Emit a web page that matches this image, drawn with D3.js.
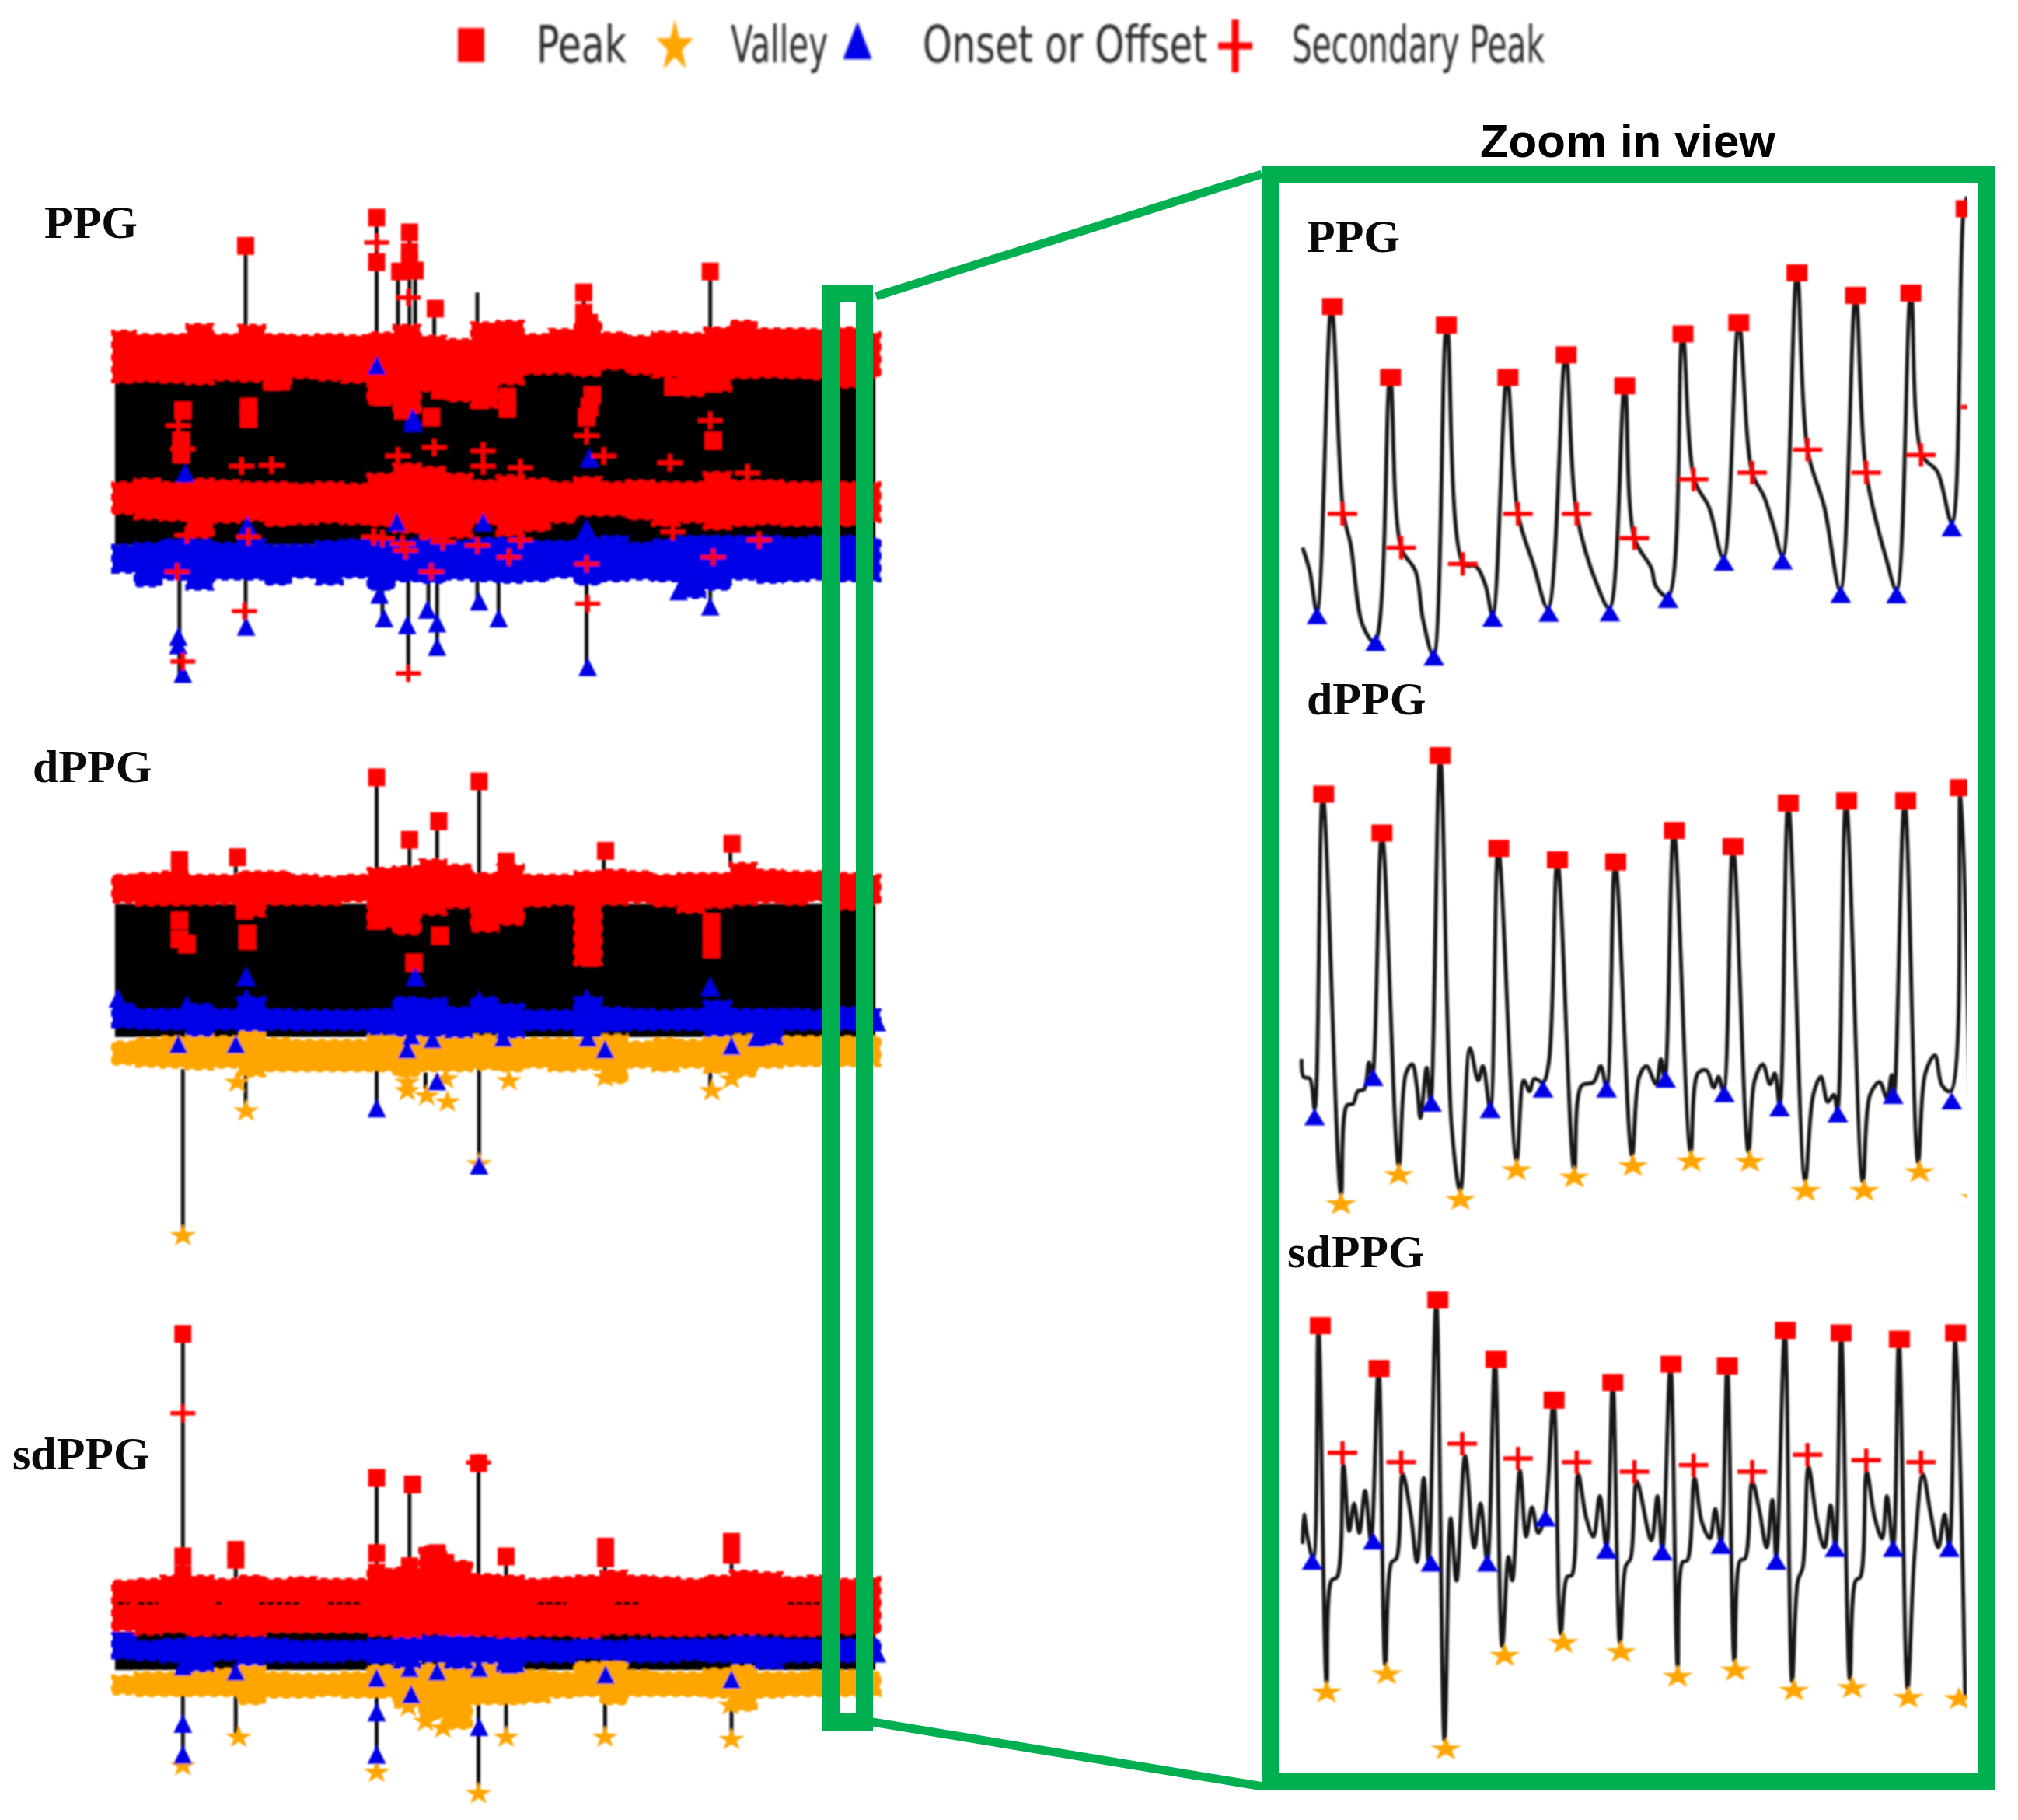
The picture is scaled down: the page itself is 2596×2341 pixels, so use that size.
<!DOCTYPE html>
<html>
<head>
<meta charset="utf-8">
<script src="https://cdn.jsdelivr.net/npm/d3@7"></script>
<style>
  html, body { margin: 0; padding: 0; background: #fff; }
</style>
</head>
<body>
<div id="chart"></div>
<script>
////////////////////////////////////////////////////////////////////////
/////  Data: levels are read off the picture, 0-1568 arbitrary units //
/////  (level grows downward, the signals have no printed axis)       //
////////////////////////////////////////////////////////////////////////

var legendLabels = ['Peak', 'Valley', 'Onset or Offset', 'Secondary Peak']
var signalNames = ['PPG', 'dPPG', 'sdPPG']

// stations along the whole record, shared by every band edge
var bandX = [196,235,280,325,370,415,460,505,550,595,640,685,730,775,820,865,910,955,1000,1045,1090,1135,1180,1225,1270,1315,1360,1405,1450,1495,1530]

// ---- whole record, PPG
var ppgBlack = [200,1522,500,1110]
var ppgPeakTop = [475,485,485,455,485,458,485,488,485,488,480,458,490,500,450,445,485,470,445,480,490,478,482,465,445,468,468,470,465,480,485]
var ppgPeakBot = [625,622,625,630,618,622,645,612,618,625,690,720,650,680,700,630,600,598,605,585,600,610,665,650,612,610,612,615,640,610,600]
var ppgSecTop = [925,915,925,915,920,925,925,930,925,930,900,870,880,900,920,905,915,925,910,925,920,925,925,895,920,920,925,925,925,925,950]
var ppgSecBot = [1015,1030,1035,1085,1040,1035,1050,1045,1040,1045,1050,1070,1090,1085,1045,1080,1065,1040,1020,1020,1030,1050,1040,1060,1050,1045,1050,1050,1050,1040,1015]
var ppgOnsetTop = [1110,1105,1095,1095,1105,1095,1110,1110,1100,1095,1095,1095,1085,1100,1090,1090,1100,1100,1090,1085,1105,1095,1085,1085,1085,1085,1090,1085,1085,1090,1110]
var ppgOnsetBot = [1190,1230,1210,1240,1210,1210,1225,1205,1225,1205,1240,1215,1220,1210,1215,1220,1215,1205,1225,1215,1210,1215,1265,1240,1210,1220,1215,1210,1215,1215,1200]
var ppgSpikes = [[427,222,500],[655,140,500],[692,300,500],[712,180,500],[722,300,500],[755,410,520],[830,360,480],[1015,360,620],[1235,300,480],
  [312,1200,1500],[427,1200,1360],[665,1200,1335],[710,1200,1510],[745,1140,1310],[760,1200,1420],[830,1200,1285],[867,1200,1335],[1020,1200,1480],[1235,1200,1300]]
var ppgSquares = [[427,222],[655,138],[655,270],[712,182],[712,240],[695,298],[722,295],[712,270],[757,408],[1015,360],[1015,420],[1025,450],[1235,298],[318,710],[432,700],[432,735],[315,800],[315,840],[1240,800],[750,730],[882,670],[882,705],[1030,665],[1025,700],[1020,730],[665,670],[700,710],[835,680],[765,650],[475,625],[1240,630],[1170,640]]
var ppgTriangles = [[655,585],[718,740],[718,755],[322,905],[1025,860],[1020,1070],[840,1050],[430,1060],[690,1050],[310,1390],[310,1415],[318,1500],[428,1360],[668,1335],[708,1355],[760,1420],[743,1310],[760,1350],[833,1285],[867,1335],[1022,1480],[1235,1300],[660,1265],[1180,1255]]
var ppgPluses = [[655,212],[710,375],[310,755],[318,825],[420,875],[472,873],[692,845],[755,820],[840,830],[840,875],[905,880],[1020,785],[1050,845],[1165,865],[1235,740],[1300,895],[325,1080],[432,1085],[665,1090],[700,1105],[770,1100],[830,1110],[905,1095],[885,1145],[1020,1165],[1170,1070],[1320,1095],[1240,1145],[308,1188],[750,1188],[425,1305],[1022,1283],[318,1455],[710,1490],[650,1085],[705,1125]]

// ---- whole record, dPPG
var dBlack = [200,1522,490,885]
var dPeakTop = [405,400,395,405,405,395,395,405,410,405,385,380,360,375,400,375,405,405,395,390,395,405,400,400,370,390,395,395,400,405,410]
var dPeakBot = [485,492,492,490,488,525,490,490,490,482,560,578,520,500,570,550,495,490,670,490,485,495,515,500,490,485,490,480,505,490,490]
var dOnsetTop = [790,805,805,790,805,770,805,808,808,808,805,770,775,800,770,790,808,808,770,800,805,808,805,780,805,805,805,808,800,805,830]
var dOnsetBot = [855,858,860,880,860,865,860,862,860,862,875,880,880,885,870,885,862,860,880,865,862,860,862,880,870,905,862,860,860,862,860]
var dValleyTop = [900,890,885,880,885,870,890,895,895,895,880,880,880,875,880,880,890,890,890,880,900,890,895,880,880,880,885,885,885,885,910]
var dValleyBot = [965,972,975,980,975,1000,985,985,985,985,985,1000,985,985,980,985,975,985,980,1020,975,985,975,990,1000,975,970,970,970,970,950]
var dSpikes = [[655,110,400],[712,300,400],[760,245,380],[833,125,400],[1050,330,400],[1270,310,380],[410,350,400],
  [318,980,1475],[427,980,1100],[655,980,1110],[833,980,1260],[740,990,1040],[1235,990,1040]]
var dSquares = [[655,115],[833,127],[763,245],[712,300],[312,360],[413,352],[1053,333],[1273,312],[880,365],[312,385],[312,540],[312,595],[325,610],[430,580],[430,600],[765,585],[720,665],[1025,600],[1025,650],[1237,545],[1237,625],[425,510],[1237,580],[655,540]]
var dTriangles = [[428,715],[722,715],[1235,745],[205,780],[428,780],[1020,780],[833,785],[325,800],[770,800],[1525,850],[310,915],[410,915],[708,930],[715,890],[752,900],[875,895],[1022,895],[1052,930],[1272,920],[1315,895],[760,1025],[655,1105],[833,1275]]
var dStars = [[412,1020],[428,1105],[318,1475],[708,1020],[708,1045],[742,1060],[778,1078],[775,1010],[885,1015],[1052,1005],[1238,1045],[1272,1010],[833,1262]]

// ---- whole record, sdPPG
var sdBlack = [200,1522,995,1112]
var sdPeakTop = [840,835,825,825,835,825,835,830,835,835,805,800,735,780,820,825,835,830,825,810,825,830,835,825,810,815,830,825,835,830,835]
var sdPeakBot = [990,1000,995,1005,1000,1005,995,995,995,995,1005,1010,1000,1005,1005,1010,1005,1005,1010,1000,1000,1005,1005,1000,1000,1000,1005,1005,1000,1000,960]
var sdOnsetTop = [1000,1025,1020,1015,1020,1015,1020,1025,1025,1025,1020,1005,1010,1000,1015,1015,1020,1025,1020,1025,1020,1020,1020,1020,1010,1015,1020,1020,1020,1020,1040]
var sdOnsetBot = [1075,1080,1085,1115,1080,1095,1085,1085,1085,1080,1090,1105,1085,1105,1090,1115,1085,1085,1075,1080,1085,1085,1080,1085,1090,1105,1085,1085,1085,1080,1085]
var sdValleyTop = [1130,1120,1120,1105,1110,1090,1120,1125,1125,1120,1100,1085,1095,1110,1085,1110,1115,1120,1090,1085,1115,1120,1120,1110,1100,1120,1120,1115,1115,1120,1125]
var sdValleyBot = [1185,1190,1190,1190,1190,1215,1195,1195,1190,1195,1195,1225,1260,1290,1215,1215,1210,1195,1190,1215,1190,1190,1190,1195,1235,1195,1190,1190,1190,1190,1180]
var sdSpikes = [[318,85,830],[410,770,830],[655,520,820],[712,545,780],[832,480,830],[880,765,830],[1052,740,820],[1272,720,810],
  [318,1190,1410],[410,1190,1320],[655,1190,1420],[738,1210,1260],[832,1190,1490],[880,1190,1320],[1052,1190,1320],[1272,1190,1325]]
var sdSquares = [[318,85],[655,525],[717,545],[832,480],[318,765],[410,745],[410,775],[655,755],[712,795],[760,755],[775,785],[880,765],[1053,735],[1053,770],[1272,720],[1272,760],[655,815],[318,820]]
var sdTriangles = [[318,1110],[410,1125],[655,1145],[712,1115],[760,1125],[833,1115],[885,1105],[1053,1135],[1272,1150],[715,1195],[318,1285],[318,1380],[655,1250],[655,1380],[833,1295],[1525,1070]]
var sdPluses = [[318,327],[832,478]]
var sdStars = [[318,1405],[415,1318],[655,1425],[832,1490],[880,1318],[1052,1318],[1272,1325],[770,1290],[740,1270],[710,1225],[1270,1220]]
// small bits of black signal that show through the red band
var sdGaps = [[205,225],[240,275],[375,385],[450,520],[570,630],[935,985],[1070,1110],[1370,1425]]
var sdGapLevel = 908

// ---- zoom in view, PPG trace
var zPpgLine = [[90,1140],[105,1210],[120,1330],[150,425],[175,1040],[190,1130],[215,1370],[240,1420],[272,635],[295,1140],[325,1210],[340,1350],[362,1460],[390,480],[425,1190],[450,1195],[470,1250],[485,1340],[515,635],[538,1040],[570,1190],[600,1320],[637,568],[660,1040],[705,1260],[728,1320],[760,660],[780,1112],[815,1200],[825,1255],[850,1285],[880,506],[905,940],[935,1020],[965,1170],[997,473],[1025,918],[1050,990],[1070,1080],[1088,1165],[1118,325],[1140,850],[1175,1020],[1208,1265],[1240,392],[1262,918],[1305,1180],[1325,1265],[1355,385],[1378,865],[1410,915],[1440,1065],[1465,135],[1472,100]]
var zPpgSquares = [[152,425],[273,635],[389,480],[517,635],[638,568],[760,660],[881,506],[997,473],[1118,325],[1240,392],[1355,385],[1470,135]]
var zPpgTriangles = [[120,1350],[242,1430],[363,1473],[485,1358],[602,1343],[729,1342],[850,1302],[966,1192],[1088,1188],[1209,1287],[1325,1288],[1440,1090]]
var zPpgPluses = [[173,1040],[295,1140],[423,1188],[538,1040],[660,1040],[780,1112],[903,938],[1025,918],[1140,850],[1262,918],[1376,865],[1490,723]]

// ---- zoom in view, dPPG trace
var zDLine = [[88,1050],[92,1100],[105,1105],[115,1190],[132,310],[170,1430],[182,1180],[195,1175],[205,1140],[218,1135],[228,1060],[235,1100],[255,418],[290,1350],[305,1090],[318,1065],[328,1130],[335,1215],[348,1075],[356,1180],[376,200],[400,1240],[418,1420],[438,1020],[455,1110],[465,1070],[480,1190],[497,460],[535,1335],[550,1110],[562,1140],[572,1105],[590,1115],[602,1060],[620,492],[655,1360],[670,1125],[695,1115],[710,1070],[722,1130],[740,498],[775,1320],[790,1100],[805,1070],[825,1120],[835,1050],[843,1110],[862,410],[897,1310],[912,1090],[930,1082],[945,1130],[955,1100],[965,1140],[985,455],[1017,1310],[1030,1110],[1047,1065],[1062,1120],[1072,1090],[1082,1180],[1100,333],[1135,1390],[1152,1150],[1168,1100],[1182,1170],[1195,1150],[1202,1195],[1220,327],[1255,1395],[1270,1150],[1290,1115],[1305,1160],[1315,1095],[1320,1150],[1342,327],[1370,1340],[1385,1090],[1405,1040],[1420,1125],[1438,1140],[1458,290],[1480,1300]]
var zDSquares = [[134,308],[255,417],[498,460],[620,492],[741,498],[863,410],[985,455],[1100,333],[1221,327],[1344,327],[1458,290],[376,200]]
var zDTriangles = [[115,1220],[237,1110],[358,1182],[480,1200],[590,1142],[722,1142],[845,1115],[967,1155],[1082,1195],[1203,1212],[1318,1160],[1440,1175]]
var zDStars = [[170,1457],[290,1375],[418,1445],[535,1362],[655,1382],[777,1350],[898,1337],[1020,1338],[1136,1420],[1258,1420],[1373,1367],[1490,1440]]

// ---- zoom in view, sdPPG trace
var zSdLine = [[90,860],[93,780],[100,840],[112,900],[123,265],[140,1240],[150,960],[162,950],[175,645],[187,825],[197,750],[208,830],[220,715],[232,850],[248,382],[262,1190],[275,910],[285,900],[298,670],[315,780],[328,910],[342,680],[352,910],[368,195],[385,1395],[398,790],[410,960],[428,620],[447,870],[460,750],[474,910],[490,357],[505,1140],[518,895],[526,960],[542,660],[555,840],[567,760],[580,830],[593,790],[612,468],[627,1105],[640,950],[650,945],[663,670],[680,790],[695,840],[708,730],[722,870],[735,420],[750,1130],[762,920],[772,900],[785,690],[815,850],[828,730],[838,880],[855,370],[870,1195],[880,910],[890,905],[905,680],[920,800],[937,845],[948,765],[960,860],[973,375],[988,1180],[1000,905],[1010,900],[1025,690],[1040,770],[1055,870],[1067,740],[1075,900],[1093,278],[1108,1235],[1120,960],[1130,925],[1142,650],[1160,800],[1175,870],[1188,755],[1198,870],[1210,285],[1228,1228],[1240,960],[1250,950],[1263,665],[1280,790],[1295,845],[1305,730],[1318,870],[1330,302],[1348,1255],[1362,900],[1380,670],[1395,770],[1412,870],[1425,780],[1435,870],[1448,285],[1468,1280]]
var zSdSquares = [[127,265],[249,382],[371,195],[492,357],[613,468],[735,420],[856,370],[973,375],[1094,278],[1210,285],[1331,302],[1448,285]]
var zSdTriangles = [[110,915],[237,860],[357,920],[474,920],[595,797],[722,885],[838,890],[960,872],[1075,915],[1197,880],[1318,880],[1435,880]]
var zSdPluses = [[173,612],[295,637],[422,587],[538,627],[660,637],[780,663],[903,645],[1025,663],[1140,617],[1262,632],[1376,637]]
var zSdStars = [[140,1265],[265,1215],[388,1420],[510,1165],[632,1130],[752,1155],[870,1222],[990,1205],[1112,1260],[1233,1253],[1350,1280],[1455,1283]]

////////////////////////////////////////////////////////////////////////
/////  Page and common bits                                           //
////////////////////////////////////////////////////////////////////////

var RED = '#ff0000', BLUE = '#0000e6', ORANGE = '#ffa500', GREEN = '#00b050'

var svg = d3.select('#chart').append('svg')
    .attr('width', 2596)
    .attr('height', 2341)
    .style('display', 'block')

var defs = svg.append('defs')
defs.append('filter').attr('id', 'soft')
    .append('feGaussianBlur').attr('stdDeviation', 0.9)
defs.append('filter').attr('id', 'softer')
    .append('feGaussianBlur').attr('stdDeviation', 1.6)

// unit size of the d3 symbols at size 1, used to stretch them to w x h
var symbolUnit = {
  square: {type: d3.symbolSquare, w: 1, h: 1},
  triangle: {type: d3.symbolTriangle, w: 1.52, h: 1.316},
  star: {type: d3.symbolStar, w: 1.795, h: 1.707}
}

// put one kind of marker on a list of [x, level] pairs
function drawMarks(g, pts, kind, w, h, color, xs, ys, sw) {
  if (kind == 'plus') {
    g.append('g').selectAll('path').data(pts).join('path')
      .attr('d', 'M-1,0H1M0,-1V1')
      .attr('transform', function(d) { return 'translate(' + xs(d[0]) + ',' + ys(d[1]) + ') scale(' + w / 2 + ',' + h / 2 + ')' })
      .attr('fill', 'none')
      .attr('stroke', color)
      .attr('stroke-width', sw)
      .attr('vector-effect', 'non-scaling-stroke')
    return
  }
  var u = symbolUnit[kind]
  g.append('g').selectAll('path').data(pts).join('path')
    .attr('d', d3.symbol().type(u.type).size(1)())
    .attr('transform', function(d) { return 'translate(' + xs(d[0]) + ',' + ys(d[1]) + ') scale(' + w / u.w + ',' + h / u.h + ')' })
    .attr('fill', color)
}

// one thick band of merged markers between two edges
function drawBand(g, top, bot, color, xs, ys) {
  var area = d3.area()
      .x(function(d, i) { return xs(bandX[i]) })
      .y0(function(d, i) { return ys(top[i]) })
      .y1(function(d, i) { return ys(bot[i]) })
      .curve(d3.curveStepAfter)
  g.append('path')
    .datum(top)
    .attr('d', area)
    .attr('fill', color)
    .attr('stroke', color)
    .attr('stroke-width', 4)
    .attr('stroke-dasharray', '9,7')
}

////////////////////////////////////////////////////////////////////////
/////  Whole record panels (left)                                     //
////////////////////////////////////////////////////////////////////////

function drawRecord(y0, y1, p) {
  var xs = d3.scaleLinear().domain([0, 1568]).range([0, 1160])
  var ys = d3.scaleLinear().domain([0, 1568]).range([y0, y1])
  var g = svg.append('g').attr('filter', 'url(#soft)')

  g.append('rect')
    .attr('x', xs(p.black[0]))
    .attr('y', ys(p.black[2]))
    .attr('width', xs(p.black[1]) - xs(p.black[0]))
    .attr('height', ys(p.black[3]) - ys(p.black[2]))
    .attr('fill', '#000')

  g.append('g').selectAll('line').data(p.spikes).join('line')
    .attr('x1', function(d) { return xs(d[0]) })
    .attr('x2', function(d) { return xs(d[0]) })
    .attr('y1', function(d) { return ys(d[1]) })
    .attr('y2', function(d) { return ys(d[2]) })
    .attr('stroke', '#111')
    .attr('stroke-width', 5)

  if (p.valleyTop) drawBand(g, p.valleyTop, p.valleyBot, ORANGE, xs, ys)
  drawBand(g, p.onsetTop, p.onsetBot, BLUE, xs, ys)
  if (p.secTop) drawBand(g, p.secTop, p.secBot, RED, xs, ys)
  drawBand(g, p.peakTop, p.peakBot, RED, xs, ys)

  if (p.gaps) {
    g.append('g').selectAll('line').data(p.gaps).join('line')
      .attr('x1', function(d) { return xs(d[0]) })
      .attr('x2', function(d) { return xs(d[1]) })
      .attr('y1', ys(sdGapLevel))
      .attr('y2', ys(sdGapLevel))
      .attr('stroke', '#000')
      .attr('stroke-width', 4)
      .attr('stroke-dasharray', '8,3')
  }

  drawMarks(g, p.squares, 'square', 22, 23, RED, xs, ys)
  if (p.stars) drawMarks(g, p.stars, 'star', 34, 28, ORANGE, xs, ys)
  drawMarks(g, p.triangles, 'triangle', 24, 24, BLUE, xs, ys)
  if (p.pluses) drawMarks(g, p.pluses, 'plus', 32, 22, RED, xs, ys, 5.5)
}

drawRecord(220, 900, {
  black: ppgBlack, spikes: ppgSpikes,
  peakTop: ppgPeakTop, peakBot: ppgPeakBot,
  secTop: ppgSecTop, secBot: ppgSecBot,
  onsetTop: ppgOnsetTop, onsetBot: ppgOnsetBot,
  squares: ppgSquares, triangles: ppgTriangles, pluses: ppgPluses
})

drawRecord(950, 1630, {
  black: dBlack, spikes: dSpikes,
  peakTop: dPeakTop, peakBot: dPeakBot,
  onsetTop: dOnsetTop, onsetBot: dOnsetBot,
  valleyTop: dValleyTop, valleyBot: dValleyBot,
  squares: dSquares, triangles: dTriangles, stars: dStars
})

drawRecord(1680, 2340, {
  black: sdBlack, spikes: sdSpikes,
  peakTop: sdPeakTop, peakBot: sdPeakBot,
  onsetTop: sdOnsetTop, onsetBot: sdOnsetBot,
  valleyTop: sdValleyTop, valleyBot: sdValleyBot,
  gaps: sdGaps,
  squares: sdSquares, triangles: sdTriangles, pluses: sdPluses, stars: sdStars
})

////////////////////////////////////////////////////////////////////////
/////  Zoom in view panels (right)                                    //
////////////////////////////////////////////////////////////////////////

function drawZoom(name, y0, y1, p) {
  var xs = d3.scaleLinear().domain([0, 1568]).range([1620, 2590])
  var ys = d3.scaleLinear().domain([0, 1568]).range([y0, y1])

  defs.append('clipPath').attr('id', 'clip' + name)
    .append('rect')
    .attr('x', 1640)
    .attr('y', y0)
    .attr('width', xs(1472) - 1640)
    .attr('height', y1 - y0)

  var g = svg.append('g')
      .attr('clip-path', 'url(#clip' + name + ')')
      .append('g')
      .attr('filter', 'url(#soft)')

  var line = d3.line()
      .x(function(d) { return xs(d[0]) })
      .y(function(d) { return ys(d[1]) })
      .curve(d3.curveCatmullRom.alpha(0.5))

  g.append('path')
    .datum(p.line)
    .attr('d', line)
    .attr('fill', 'none')
    .attr('stroke', '#161616')
    .attr('stroke-width', 5)
    .attr('stroke-linejoin', 'round')

  drawMarks(g, p.squares, 'square', 27, 22, RED, xs, ys)
  drawMarks(g, p.triangles, 'triangle', 27, 22, BLUE, xs, ys)
  if (p.stars) drawMarks(g, p.stars, 'star', 40, 29, ORANGE, xs, ys)
  if (p.pluses) drawMarks(g, p.pluses, 'plus', 38, 30, RED, xs, ys, 5.5)
}

drawZoom('Ppg', 210, 890, {line: zPpgLine, squares: zPpgSquares, triangles: zPpgTriangles, pluses: zPpgPluses})
drawZoom('D', 880, 1600, {line: zDLine, squares: zDSquares, triangles: zDTriangles, stars: zDStars})
drawZoom('Sd', 1580, 2320, {line: zSdLine, squares: zSdSquares, triangles: zSdTriangles, pluses: zSdPluses, stars: zSdStars})

////////////////////////////////////////////////////////////////////////
/////  Green frames and connectors                                    //
////////////////////////////////////////////////////////////////////////

// narrow frame on the record
svg.append('rect')
  .attr('x', 1069).attr('y', 377)
  .attr('width', 43).attr('height', 1838)
  .attr('fill', 'none').attr('stroke', GREEN).attr('stroke-width', 22)

// frame of the zoom in view
svg.append('rect')
  .attr('x', 1634).attr('y', 224)
  .attr('width', 922).attr('height', 2068)
  .attr('fill', 'none').attr('stroke', GREEN).attr('stroke-width', 22)

svg.append('line')
  .attr('x1', 1127).attr('y1', 381).attr('x2', 1623).attr('y2', 224)
  .attr('stroke', GREEN).attr('stroke-width', 11)
svg.append('line')
  .attr('x1', 1122).attr('y1', 2215).attr('x2', 1625).attr('y2', 2298)
  .attr('stroke', GREEN).attr('stroke-width', 11)

////////////////////////////////////////////////////////////////////////
/////  Text                                                           //
////////////////////////////////////////////////////////////////////////

svg.append('text')
  .attr('x', 2094).attr('y', 202)
  .attr('text-anchor', 'middle')
  .attr('font-family', '"Liberation Sans", Arial, sans-serif')
  .attr('font-weight', 'bold')
  .attr('font-size', 60)
  .text('Zoom in view')

// signal names, [x, baseline] for the left and the right column
var leftPos = [[57, 306], [42, 1006], [16, 1890]]
var rightPos = [[1681, 324], [1681, 919], [1656, 1630]]

signalNames.forEach(function(n, i) {
  ;[leftPos[i], rightPos[i]].forEach(function(p) {
    svg.append('text')
      .attr('x', p[0]).attr('y', p[1])
      .attr('font-family', '"Liberation Serif", "Times New Roman", serif')
      .attr('font-weight', 'bold')
      .attr('font-size', 60)
      .attr('fill', '#0a0a0a')
      .text(n)
  })
})

// legend, glyphs and squeezed labels like the stretched original
var legendG = svg.append('g').attr('filter', 'url(#softer)')
var legendX = d3.scaleLinear().domain([0, 1]).range([0, 1])
var legendY = d3.scaleLinear().domain([0, 1]).range([0, 1])

drawMarks(legendG, [[606, 58]], 'square', 34, 44, RED, legendX, legendY)
drawMarks(legendG, [[868, 60]], 'star', 48, 64, ORANGE, legendX, legendY)
drawMarks(legendG, [[1103, 60]], 'triangle', 37, 48, BLUE, legendX, legendY)
drawMarks(legendG, [[1589, 59]], 'plus', 44, 68, RED, legendX, legendY, 9)

var legendStart = [690, 940, 1187, 1662]
var legendLen = [116, 125, 366, 325]

legendLabels.forEach(function(t, i) {
  legendG.append('text')
    .attr('x', legendStart[i])
    .attr('y', 80)
    .attr('font-family', '"DejaVu Sans", sans-serif')
    .attr('font-size', 66)
    .attr('fill', '#2a2a2a')
    .attr('textLength', legendLen[i])
    .attr('lengthAdjust', 'spacingAndGlyphs')
    .text(t)
})
</script>
</body>
</html>
